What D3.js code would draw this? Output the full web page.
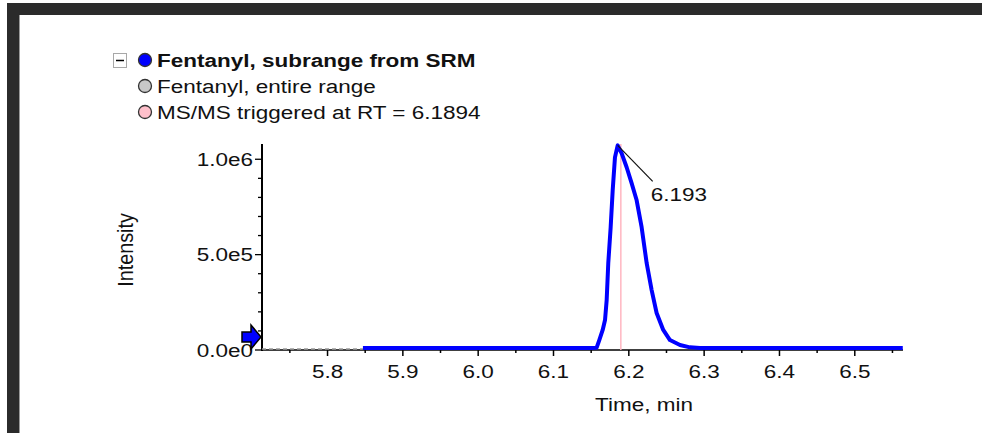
<!DOCTYPE html>
<html>
<head>
<meta charset="utf-8">
<script src="https://cdn.jsdelivr.net/npm/d3@7"></script>
<style>
  html, body { margin: 0; padding: 0; background: #fff; }
  svg { display: block; font-family: "Liberation Sans", Arial, sans-serif; }
  .tick_label { font-size: 18px; fill: #111; }
  .legend_text { font-size: 18px; fill: #111; }
</style>
</head>
<body>
<div id="chromatogram"></div>
<script>
// data
var subrangeTime = [5.847, 5.95, 6.05, 6.15, 6.1573, 6.1608, 6.1653, 6.1684, 6.1706, 6.1727,
  6.1759, 6.1786, 6.1816, 6.1852, 6.1905, 6.1971, 6.2038, 6.2104, 6.2170, 6.2237,
  6.2303, 6.2369, 6.2457, 6.2546, 6.2679, 6.2811, 6.2944, 6.40, 6.5637];
var subrangeIntensity = [10000, 10000, 10000, 10000, 12000, 52000, 105000, 157000, 262000, 455000,
  644000, 838000, 1010000, 1073000, 1031000, 958000, 874000, 785000, 644000, 455000,
  314000, 194000, 105000, 52000, 26000, 14000, 10000, 10000, 10000];
var entireTime = [5.713, 5.847];
var entireIntensity = [0, 0];
var triggerRT = 6.1894;
var apexLabel = "6.193";
var xTicks = [5.8, 5.9, 6.0, 6.1, 6.2, 6.3, 6.4, 6.5];
var yTicks = [0, 500000, 1000000];
var yTickLabels = ["0.0e0", "5.0e5", "1.0e6"];
var legendNames = ["Fentanyl, subrange from SRM", "Fentanyl, entire range", "MS/MS triggered at RT = 6.1894"];
var legendColors = ["#0000ff", "#c8c8c8", "#ffc0cb"];

// layout
var viewBox = {width: 982, height: 433},
    plot = {left: 262, right: 903, top: 144, bottom: 350},
    stretch = 1.25;

var svg = d3.select("#chromatogram")
  .append("svg")
  .attr("width", viewBox.width)
  .attr("height", viewBox.height);

// window frame
svg.append("rect").attr("x", 7).attr("y", 3).attr("width", viewBox.width - 7).attr("height", 12).attr("fill", "#2b2b2b");
svg.append("rect").attr("x", 7).attr("y", 3).attr("width", 12).attr("height", viewBox.height - 3).attr("fill", "#2b2b2b");
svg.append("line").attr("x1", 19.5).attr("x2", 19.5).attr("y1", 15).attr("y2", viewBox.height)
  .attr("stroke", "#9a9a9a").attr("stroke-width", 1);

var x = d3.scaleLinear()
  .domain([5.713, 6.564])
  .range([plot.left, plot.right]);

var y = d3.scaleLinear()
  .domain([0, 1080000])
  .range([plot.bottom, plot.top]);

// text helper, the screenshot is stretched sideways
function label(txt, px, py, anchor, cls, weight){
  return svg.append("text")
    .attr("class", cls)
    .attr("text-anchor", anchor)
    .attr("font-weight", weight || "normal")
    .attr("transform", "translate(" + px + "," + py + ") scale(" + stretch + ",1)")
    .text(txt);
}

// X axis
var minorX = d3.range(5.75, 6.56, 0.05).map(function(d){ return +d.toFixed(2); });
var xAxis = svg.append("g");
xAxis.append("line")
  .attr("x1", plot.left).attr("x2", plot.right)
  .attr("y1", plot.bottom).attr("y2", plot.bottom)
  .attr("stroke", "#000").attr("stroke-width", 1.5);
xAxis.selectAll(".xtick")
  .data(minorX)
  .enter().append("line")
    .attr("x1", function(d){ return x(d); })
    .attr("x2", function(d){ return x(d); })
    .attr("y1", plot.bottom)
    .attr("y2", function(d){ return xTicks.indexOf(d) >= 0 ? plot.bottom + 6 : plot.bottom + 3; })
    .attr("stroke", "#000").attr("stroke-width", 1.5);
xTicks.forEach(function(t){
  label(t.toFixed(1), x(t), 378, "middle", "tick_label");
});
label("Time, min", 644, 411, "middle", "tick_label");

// Y axis
var minorY = d3.range(0, 1000001, 100000);
var yAxis = svg.append("g");
yAxis.append("line")
  .attr("x1", plot.left).attr("x2", plot.left)
  .attr("y1", plot.top).attr("y2", plot.bottom + 1)
  .attr("stroke", "#000").attr("stroke-width", 2);
yAxis.selectAll(".ytick")
  .data(minorY)
  .enter().append("line")
    .attr("x1", function(d){ return yTicks.indexOf(d) >= 0 ? plot.left - 7 : plot.left - 4; })
    .attr("x2", plot.left)
    .attr("y1", function(d){ return y(d); })
    .attr("y2", function(d){ return y(d); })
    .attr("stroke", "#000").attr("stroke-width", 1.3);
yTicks.forEach(function(t, i){
  label(yTickLabels[i], 253, y(t) + 6.5, "end", "tick_label");
});
svg.append("text")
  .attr("class", "tick_label")
  .attr("text-anchor", "middle")
  .attr("transform", "translate(133,250) rotate(-90) scale(1.1," + stretch + ")")
  .text("Intensity");

// series
var line = d3.line()
  .x(function(d){ return x(d[0]); })
  .y(function(d){ return y(d[1]); });

svg.append("path")
  .datum(d3.zip(entireTime, entireIntensity))
  .attr("d", line)
  .attr("fill", "none")
  .attr("stroke", "#9a9a9a")
  .attr("stroke-width", 1.5)
  .attr("stroke-dasharray", "4,3")
  .attr("transform", "translate(0,-1)");

svg.append("line")
  .attr("x1", x(triggerRT)).attr("x2", x(triggerRT))
  .attr("y1", y(0)).attr("y2", plot.top)
  .attr("stroke", "#ffb6c1").attr("stroke-width", 1.5);

svg.append("path")
  .datum(d3.zip(subrangeTime, subrangeIntensity))
  .attr("d", line)
  .attr("fill", "none")
  .attr("stroke", "#0000ff")
  .attr("stroke-width", 4)
  .attr("stroke-linejoin", "round");

// apex annotation
var apexIdx = d3.maxIndex(subrangeIntensity);
var apex = {x: x(subrangeTime[apexIdx]), y: y(subrangeIntensity[apexIdx])};
svg.append("line")
  .attr("x1", apex.x).attr("y1", apex.y)
  .attr("x2", apex.x + 35).attr("y2", apex.y + 36)
  .attr("stroke", "#111").attr("stroke-width", 1.2);
label(apexLabel, apex.x + 33, apex.y + 56, "start", "tick_label");

// blue arrow marker at the left of the axis
var ay = y(0) - 13;
svg.append("path")
  .attr("d", "M" + (plot.left - 20) + "," + (ay - 5) +
             " L" + (plot.left - 11) + "," + (ay - 5) +
             " L" + (plot.left - 11) + "," + (ay - 12) +
             " L" + (plot.left - 1) + "," + ay +
             " L" + (plot.left - 11) + "," + (ay + 12) +
             " L" + (plot.left - 11) + "," + (ay + 5) +
             " L" + (plot.left - 20) + "," + (ay + 5) + " Z")
  .attr("fill", "#0000ff")
  .attr("stroke", "#000")
  .attr("stroke-width", 1.5);

// legend
svg.append("rect")
  .attr("x", 113.5).attr("y", 53.5).attr("width", 13).attr("height", 14)
  .attr("fill", "#fff").attr("stroke", "#a8a8a8");
svg.append("line")
  .attr("x1", 116).attr("x2", 124).attr("y1", 60.5).attr("y2", 60.5)
  .attr("stroke", "#000").attr("stroke-width", 1.5);

legendNames.forEach(function(name, i){
  var cy = 60 + i * 26;
  svg.append("circle")
    .attr("cx", 145).attr("cy", cy).attr("r", 6.5)
    .attr("fill", legendColors[i])
    .attr("stroke", "#333").attr("stroke-width", 1.3);
  label(name, 157, cy + 7, "start", "legend_text", i === 0 ? "bold" : "normal");
});
</script>
</body>
</html>
